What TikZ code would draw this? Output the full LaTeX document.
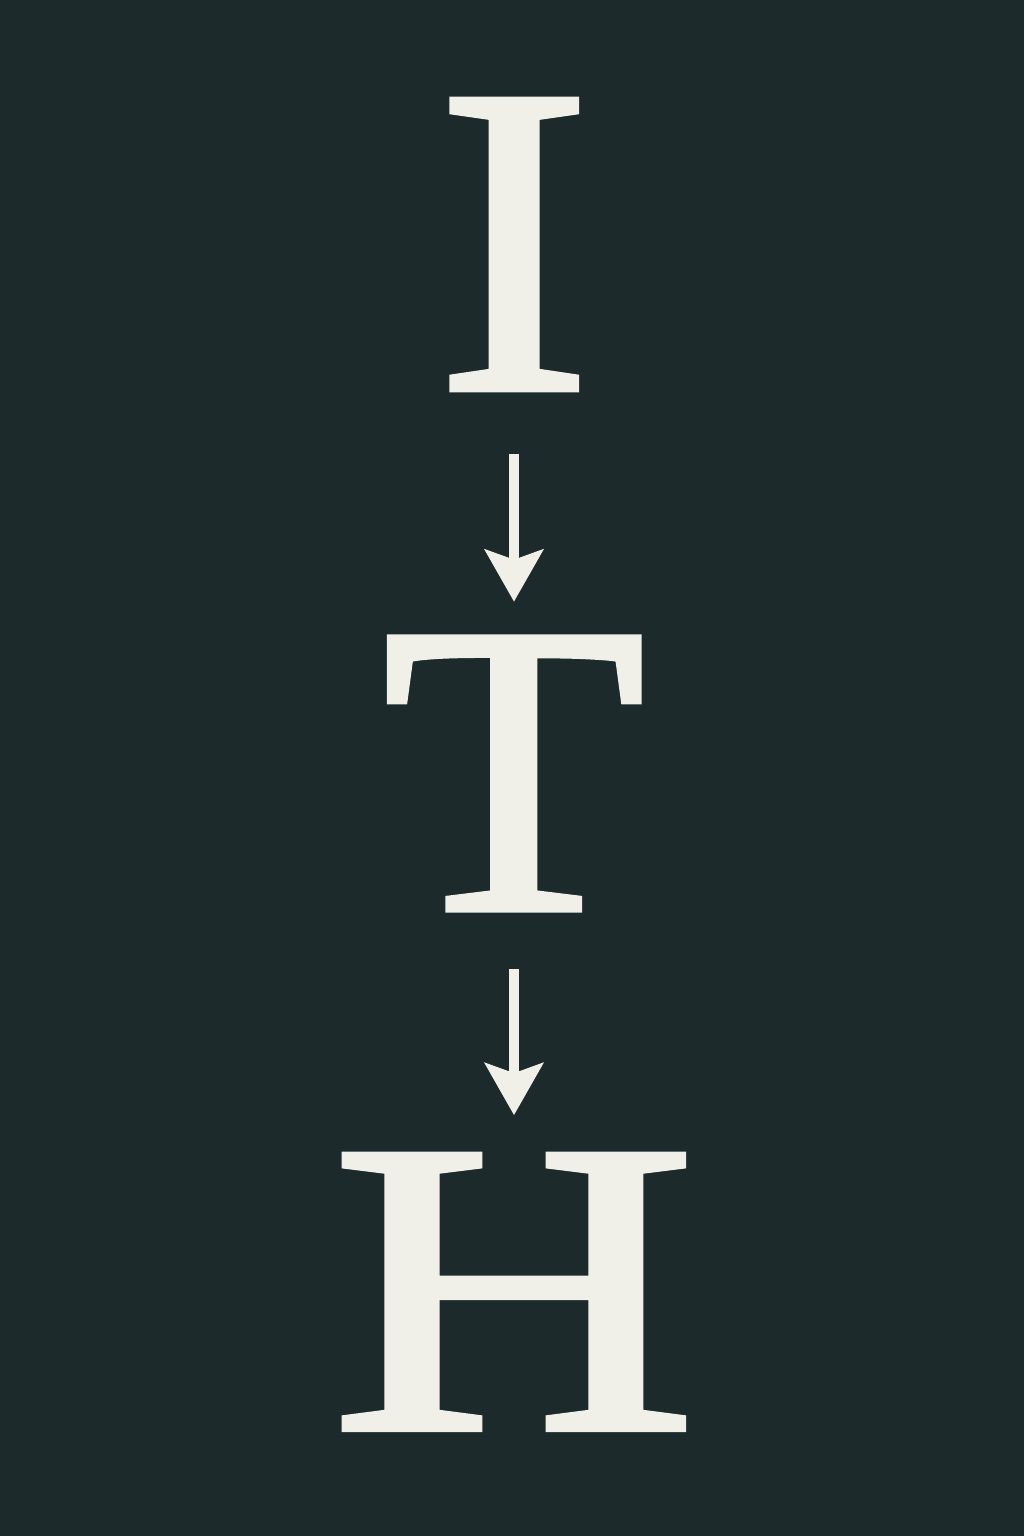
\documentclass[tikz,border=0pt]{standalone}
\usepackage{fontspec}
\usepackage{graphicx}
\newfontfamily\glyphfont{Liberation Serif}[FakeBold=1.5]
\usepackage{tikz}
\usetikzlibrary{positioning, arrows.meta}
\definecolor{slate}{RGB}{29,42,44}
\definecolor{chalk}{RGB}{240,240,232}
\tikzset{
    letter/.style={inner sep=0pt, text=chalk, font=\glyphfont},
    flow/.style={draw=chalk, line width=0.1cm, -{Stealth[length=0.52cm, width=0.58cm, inset=0.1cm]}},
}

\begin{document}
\begin{tikzpicture}
    \fill[slate] (0,0) rectangle (10.24,15.36);
    \useasboundingbox (0,0) rectangle (10.24,15.36);

    \node[letter] (I) at (5.14,12.915) {\resizebox{1.56cm}{2.89cm}{I}};
    \node[letter, below=2.47cm of I] (T) {\resizebox{2.63cm}{2.72cm}{T}};
    \node[letter, below=2.44cm of T] (H) {\resizebox{3.66cm}{2.74cm}{H}};

    \draw[flow, shorten <=0.64cm, shorten >=0.35cm] (I) -- (T);
    \draw[flow, shorten <=0.59cm, shorten >=0.39cm] (T) -- (H);
\end{tikzpicture}
\end{document}
